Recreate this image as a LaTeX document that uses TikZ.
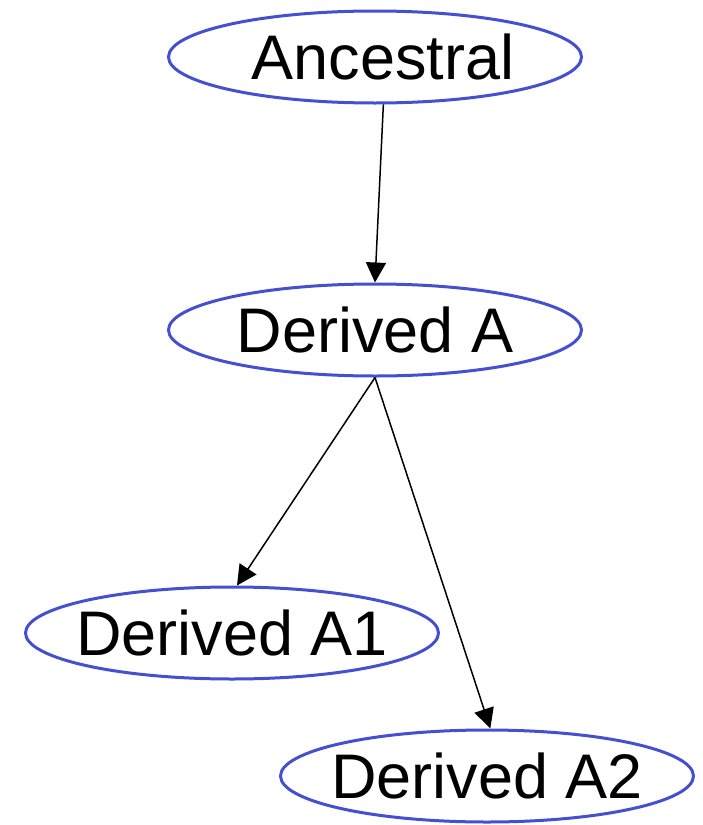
\documentclass[tikz,border=0pt]{standalone}
\usepackage{fontspec}
\setmainfont{Liberation Sans}
\usetikzlibrary{shapes.geometric,arrows.meta}
\definecolor{nodeblue}{RGB}{68,80,208}
% zero-width label so the ellipse keeps its fixed size
\newcommand{\taxlabel}[1]{\makebox[0pt]{#1}}
\tikzset{
  taxon/.style={ellipse, draw=nodeblue, line width=3pt, minimum width=413pt,
    minimum height=92pt, inner sep=0pt, text height=45pt, text depth=0pt,
    font=\fontsize{63}{70}\selectfont},
  link/.style={line width=1.5pt, -{Triangle[length=20pt,width=20pt]}}
}
\begin{document}
\begin{tikzpicture}[x=1pt,y=-1pt]
  \useasboundingbox (0,0) rectangle (702,825);
  \node[taxon] (anc) at (375,57) {\taxlabel{\hspace*{16pt}Ancestral}};
  \node[taxon] (da) at (375,330) {\taxlabel{Derived A}};
  \node[taxon] (a1) at (232,633) {\taxlabel{Derived A1}};
  \node[taxon] (a2) at (487,776) {\taxlabel{Derived A2}};
  \draw[link] (anc.-80) -- (da.north);
  \draw[link] (da.south) -- (a1.84);
  \draw[link] (da.south) -- (a2.86);
\end{tikzpicture}
\end{document}
